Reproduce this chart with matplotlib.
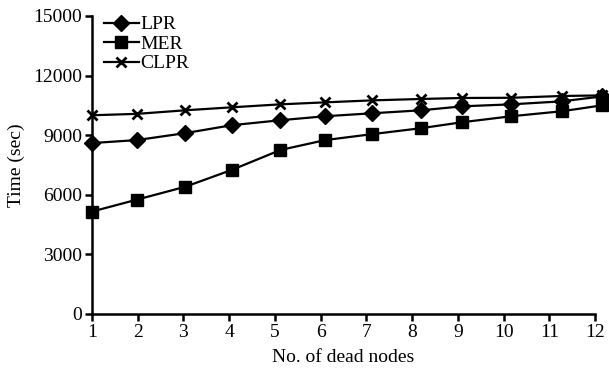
import matplotlib.pyplot as plt

dead_nodes = [1, 1.98, 3.04, 4.06, 5.12, 6.1, 7.13, 8.2, 9.1, 10.17, 11.27, 12.16]
lpr = [8600, 8750, 9100, 9500, 9750, 9950, 10100, 10250, 10450, 10550, 10700, 10950]
mer = [5150, 5750, 6400, 7250, 8250, 8750, 9050, 9350, 9650, 9950, 10200, 10500]
clpr = [10000, 10070, 10250, 10400, 10550, 10650, 10750, 10820, 10870, 10880, 10970, 11000]

x_ticks = list(range(1, 13))
y_ticks = [0, 3000, 6000, 9000, 12000, 15000]

plt.rcParams['font.family'] = 'Liberation Serif'
plt.rcParams['font.size'] = 14

fig = plt.figure(figsize=(6.09, 3.71), dpi=100)
ax = fig.add_axes([0.151, 0.154, 0.826, 0.803])

ax.plot(dead_nodes, lpr, color='black', lw=1.6, marker='D', ms=8, label='LPR', clip_on=False)
ax.plot(dead_nodes, mer, color='black', lw=1.6, marker='s', ms=8, label='MER', clip_on=False)
ax.plot(dead_nodes, clpr, color='black', lw=1.6, marker='x', ms=7, mew=2, label='CLPR', clip_on=False)

ax.set_xlim(1, 12)
ax.set_ylim(0, 15000)
ax.set_xticks(x_ticks)
ax.set_yticks(y_ticks)

for side in ['top', 'right']:
    ax.spines[side].set_visible(False)
for side in ['left', 'bottom']:
    ax.spines[side].set_linewidth(1.8)
ax.tick_params(width=1.8, length=5, direction='out', pad=2)

ax.set_xlabel('No. of dead nodes', labelpad=6)
ax.set_ylabel('Time (sec)', labelpad=6)

ax.legend(loc='upper left', bbox_to_anchor=(0.0, 1.04), frameon=False,
          handlelength=1.8, handletextpad=0.1, labelspacing=0.1, borderaxespad=0.2)

fig.savefig('out.png', dpi=100)
